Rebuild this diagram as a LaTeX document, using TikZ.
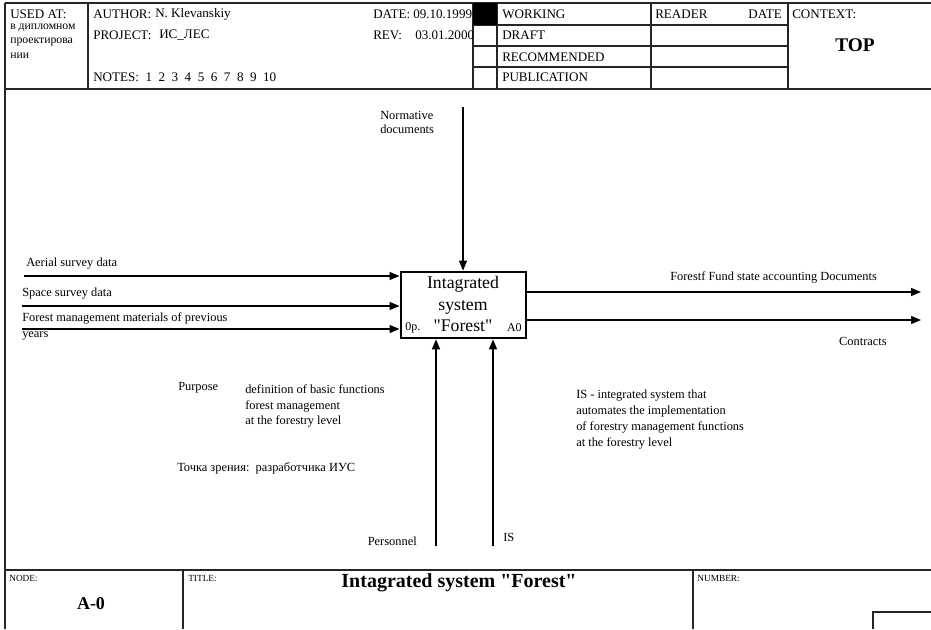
\documentclass[tikz,border=0pt]{standalone}
\usepackage{fontspec}
\setmainfont{Liberation Serif}
\usetikzlibrary{arrows.meta}
\begin{document}
\begin{tikzpicture}[x=0.75pt,y=-0.75pt,
  frameline/.style={line width=1.4pt, draw=black!85},
  gridline/.style={line width=1.1pt, draw=black!85},
  hdr/.style={inner sep=0pt, anchor=west, font=\fontsize{9.8}{11}\selectfont},
  small/.style={inner sep=0pt, anchor=west, font=\fontsize{7}{8}\selectfont},
  cyr/.style={inner sep=0pt, anchor=west, font=\fontsize{8.8}{9}\selectfont},
  lbl/.style={inner sep=0pt, anchor=west, font=\fontsize{9.3}{12}\selectfont, align=left},
  conn/.style={line width=1pt, -{Triangle[length=7.5pt,width=6pt]}},
  fnbox/.style={draw, line width=1.5pt, minimum width=93.75pt, minimum height=50pt, inner sep=0pt}]
\useasboundingbox (0,0) rectangle (931,629);
% ---------- header frame ----------
\draw[frameline] (5,3) -- (931,3);
\draw[frameline] (5,3) -- (5,629);
\draw[frameline] (5,89) -- (931,89);
\draw[gridline] (88,3) -- (88,89);
\draw[gridline] (473,3) -- (473,89);
\draw[gridline] (497,3) -- (497,89);
\draw[gridline] (651,3) -- (651,89);
\draw[gridline] (788,3) -- (788,89);
\foreach \yy in {25,46,67} \draw[gridline] (473,\yy) -- (788,\yy);
\fill[black] (473,3) rectangle (497,25);
% header texts
\node[hdr] (usedat) at (10,14) {USED AT:};
\node[cyr] (used1) at (10,28) {в дипломном};
\node[cyr] (used2) at (10,42) {проектирова};
\node[cyr] (used3) at (10,56) {нии};
\node[hdr] (author) at (93,14) {AUTHOR:};
\node[hdr] (authorv) at (155,14) {N. Klevanskiy};
\node[hdr] (project) at (93,35) {PROJECT:};
\node[hdr] (projectv) at (159,35) {ИС\_ЛЕС};
\node[hdr] (notes) at (93,77) {NOTES:\ \ 1\ \ 2\ \ 3\ \ 4\ \ 5\ \ 6\ \ 7\ \ 8\ \ 9\ \ 10};
\begin{scope}
\clip (300,3) rectangle (472,89);
\node[hdr] (date) at (373,14) {DATE:};
\node[hdr] (datev) at (413,14) {09.10.1999};
\node[hdr] (rev) at (373,35) {REV:};
\node[hdr] (revv) at (415,35) {03.01.2000};
\end{scope}
\node[hdr] (working) at (502,14) {WORKING};
\node[hdr] (draft) at (502,35) {DRAFT};
\node[hdr] (recommended) at (502,57) {RECOMMENDED};
\node[hdr] (publication) at (502,77) {PUBLICATION};
\node[hdr] (reader) at (655,14) {READER};
\node[hdr, anchor=east] (rdate) at (782,14) {DATE};
\node[hdr] (context) at (792,14) {CONTEXT:};
\node[inner sep=0pt, font=\fontsize{14.5}{16}\selectfont\bfseries] (top) at (855,45) {TOP};
% ---------- function box ----------
\node[fnbox] (fn) at (463,305) {};
\node[inner sep=0pt, align=center, font=\fontsize{13.3}{16.2}\selectfont] (fntext) at (463,304) {Intagrated\\system\\\textquotedbl Forest\textquotedbl};
\node[inner sep=0pt, anchor=west, font=\fontsize{9}{10}\selectfont] (fnop) at (405,328) {0p.};
\node[inner sep=0pt, anchor=east, font=\fontsize{9}{10}\selectfont] (fnid) at (522,328) {A0};
% inputs
\coordinate (in1) at (24,276);
\coordinate (in2) at (22,306);
\coordinate (in3) at (22,329);
\draw[conn] (in1) -- (in1 -| fn.west);
\draw[conn] (in2) -- (in2 -| fn.west);
\draw[conn] (in3) -- (in3 -| fn.west);
\node[lbl] (in1l) at (26,264) {Aerial survey data};
\node[lbl] (in2l) at (22,294) {Space survey data};
\node[lbl] (in3l) at (22,326.5) {Forest management materials of previous\\years};
% control
\coordinate (ctl) at (463,107);
\draw[conn] (ctl) -- (fn.north);
\node[lbl, font=\fontsize{9.3}{10.5}\selectfont] (ctll) at (380,122) {Normative\\documents};
% mechanisms
\coordinate (m1) at (436,546);
\coordinate (m2) at (493,546);
\draw[conn] (m1) -- (m1 |- fn.south);
\draw[conn] (m2) -- (m2 |- fn.south);
\node[lbl, anchor=east] (m1l) at (417,541) {Personnel};
\node[lbl] (m2l) at (503,537) {IS};
% outputs
\coordinate (o1) at (921,292);
\coordinate (o2) at (921,320);
\draw[conn] (o1 -| fn.east) -- (o1);
\draw[conn] (o2 -| fn.east) -- (o2);
\node[lbl] (o1l) at (670,277) {Forestf Fund state accounting Documents};
\node[lbl, anchor=east] (o2l) at (887,341) {Contracts};
% notes
\node[lbl] (purpose) at (178,388) {Purpose};
\node[lbl, font=\fontsize{9.3}{11.6}\selectfont] (purposet) at (245,406) {definition of basic functions\\forest management\\at the forestry level};
\node[lbl] (viewpoint) at (177,468) {Точка зрения:\ \ разработчика ИУС};
\node[lbl, font=\fontsize{9.3}{11.8}\selectfont] (istext) at (576,419.5) {IS - integrated system that\\automates the implementation\\of forestry management functions\\at the forestry level};
% ---------- footer ----------
\draw[frameline] (5,570) -- (931,570);
\draw[gridline] (183,570) -- (183,629);
\draw[gridline] (693,570) -- (693,629);
\draw[gridline] (873,629) -- (873,612) -- (931,612);
\node[small] (node) at (9,578) {NODE:};
\node[inner sep=0pt, font=\fontsize{13.5}{15}\selectfont\bfseries] (nodev) at (91,604) {A-0};
\node[small] (title) at (188,578) {TITLE:};
\node[inner sep=0pt, font=\fontsize{15}{17}\selectfont\bfseries] (titlev) at (459,583) {Intagrated system \textquotedbl Forest\textquotedbl};
\node[small] (number) at (697,578) {NUMBER:};
\end{tikzpicture}
\end{document}
